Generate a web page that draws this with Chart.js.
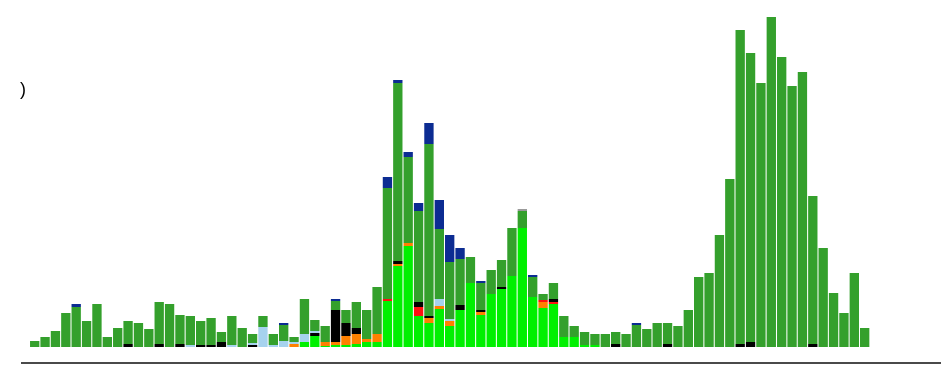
<!DOCTYPE html>
<html>
<head>
<meta charset="utf-8">
<script src="https://cdn.jsdelivr.net/npm/chart.js@4"></script>
<style>
  html, body { margin: 0; padding: 0; background: #ffffff; }
  #wrap { position: relative; width: 948px; height: 376px; }
</style>
</head>
<body>
<div id="wrap"><canvas id="c"></canvas></div>
<script>
// Weekly counts, one entry per period, stacked bottom to top.
const periods = Array.from({ length: 81 }, (_, i) => i);

const limeSeries = [
  0,0,0,0,0,0,0,0,0,0, 0,0,0,0,0,0,0,0,0,0,
  0,0,0,0,0,0,5,11,1,2, 2,3,5,5,46,81,101,31,24,38,
  21,37,64,32,53,58,71,119,50,39, 43,10,10,2,2,0,0,0,0,0,
  0,0,0,0,0,0,0,0,0,0, 0,0,0,0,0,0,0,0,0,0, 0
];
const orangeSeries = [
  0,0,0,0,0,0,0,0,0,0, 0,0,0,0,0,0,0,0,0,0,
  0,0,0,0,0,3,0,0,4,3, 9,10,3,8,0,2,3,0,5,3,
  5,0,0,3,0,0,0,0,0,6, 0,0,0,0,0,0,0,0,0,0,
  0,0,0,0,0,0,0,0,0,0, 0,0,0,0,0,0,0,0,0,0, 0
];
const redSeries = [
  0,0,0,0,0,0,0,0,0,0, 0,0,0,0,0,0,0,0,0,0,
  0,0,0,0,0,0,0,0,0,0, 0,0,0,0,2,0,0,9,0,0,
  0,0,0,0,0,0,0,0,0,2, 2,0,0,0,0,0,0,0,0,0,
  0,0,0,0,0,0,0,0,0,0, 0,0,0,0,0,0,0,0,0,0, 0
];
const blackSeries = [
  0,0,0,0,0,0,0,0,0,3, 0,0,3,0,3,0,2,2,5,0,
  0,2,0,0,0,0,0,3,0,32, 13,6,0,0,0,3,0,5,2,0,
  0,5,0,2,0,2,0,0,0,0, 3,0,0,0,0,0,3,0,0,0,
  0,3,0,0,0,0,0,0,3,5, 0,0,0,0,0,3,0,0,0,0, 0
];
const lightBlueSeries = [
  0,0,0,0,0,0,0,0,0,0, 0,0,0,0,0,2,0,0,0,2,
  0,2,20,2,6,2,8,2,0,0, 0,0,0,0,0,0,0,0,0,7,
  2,0,0,0,0,0,0,0,0,0, 0,0,0,0,0,0,0,0,0,0,
  0,0,0,0,0,0,0,0,0,0, 0,0,0,0,0,0,0,0,0,0, 0
];
const darkGreenSeries = [
  6,10,16,34,40,26,43,10,19,23, 24,18,42,43,29,29,24,27,10,29,
  19,9,11,11,16,5,35,11,16,9, 13,26,29,47,111,178,86,91,172,70,
  57,46,26,27,24,27,48,17,20,6, 16,21,11,13,11,13,12,13,22,18,
  24,21,21,37,70,74,112,168,314,289, 264,330,290,261,275,148,99,54,34,74, 19
];
const darkBlueSeries = [
  0,0,0,0,3,0,0,0,0,0, 0,0,0,0,0,0,0,0,0,0,
  0,0,0,0,2,0,0,0,0,2, 0,0,0,0,11,3,5,8,21,29,
  27,11,0,2,0,0,0,0,2,0, 0,0,0,0,0,0,0,0,2,0,
  0,0,0,0,0,0,0,0,0,0, 0,0,0,0,0,0,0,0,0,0, 0
];
const graySeries = [
  0,0,0,0,0,0,0,0,0,0, 0,0,0,0,0,0,0,0,0,0,
  0,0,0,0,0,0,0,0,0,0, 0,0,0,0,0,0,0,0,0,0,
  0,0,0,0,0,0,0,2,0,0, 0,0,0,0,0,0,0,0,0,0,
  0,0,0,0,0,0,0,0,0,0, 0,0,0,0,0,0,0,0,0,0, 0
];

const seriesDefs = [
  { name: 'lime',      values: limeSeries,      color: '#00f000' },
  { name: 'orange',    values: orangeSeries,    color: '#ff8000' },
  { name: 'red',       values: redSeries,       color: '#ff1010' },
  { name: 'black',     values: blackSeries,     color: '#000000' },
  { name: 'lightblue', values: lightBlueSeries, color: '#a6d2ee' },
  { name: 'darkgreen', values: darkGreenSeries, color: '#34a02c' },
  { name: 'darkblue',  values: darkBlueSeries,  color: '#0c2c92' },
  { name: 'gray',      values: graySeries,      color: '#9a9a9a' }
];

const datasets = seriesDefs.map(s => ({
  label: s.name,
  data: periods.map((p, i) => ({ x: p, y: s.values[i] })),
  backgroundColor: s.color,
  borderWidth: 0,
  stack: 'all',
  barPercentage: 0.9,
  categoryPercentage: 1.0
}));

// Stray axis-title fragment at the upper left
const cornerText = {
  id: 'cornerText',
  afterDraw(chart) {
    const ctx = chart.ctx;
    ctx.save();
    ctx.fillStyle = '#000000';
    ctx.font = '18px "Liberation Sans", Arial, sans-serif';
    ctx.textBaseline = 'alphabetic';
    ctx.fillText(')', 20, 95);
    ctx.restore();
  }
};

new Chart(document.getElementById('c'), {
  type: 'bar',
  data: { datasets },
  options: {
    responsive: true,
    maintainAspectRatio: false,
    animation: false,
    layout: { padding: { left: 22, right: 8, top: 7, bottom: 13 } },
    plugins: {
      legend: { display: false },
      tooltip: { enabled: false }
    },
    scales: {
      x: {
        type: 'linear',
        stacked: true,
        offset: false,
        bounds: 'data',
        min: -1.224,
        max: 87.26,
        grid: { display: false, drawTicks: false, offset: false },
        ticks: { display: false },
        border: { display: true, color: '#4a4a4a', width: 2 }
      },
      y: {
        stacked: true,
        display: false,
        min: -16,
        max: 340
      }
    }
  },
  plugins: [cornerText]
});
</script>
</body>
</html>
